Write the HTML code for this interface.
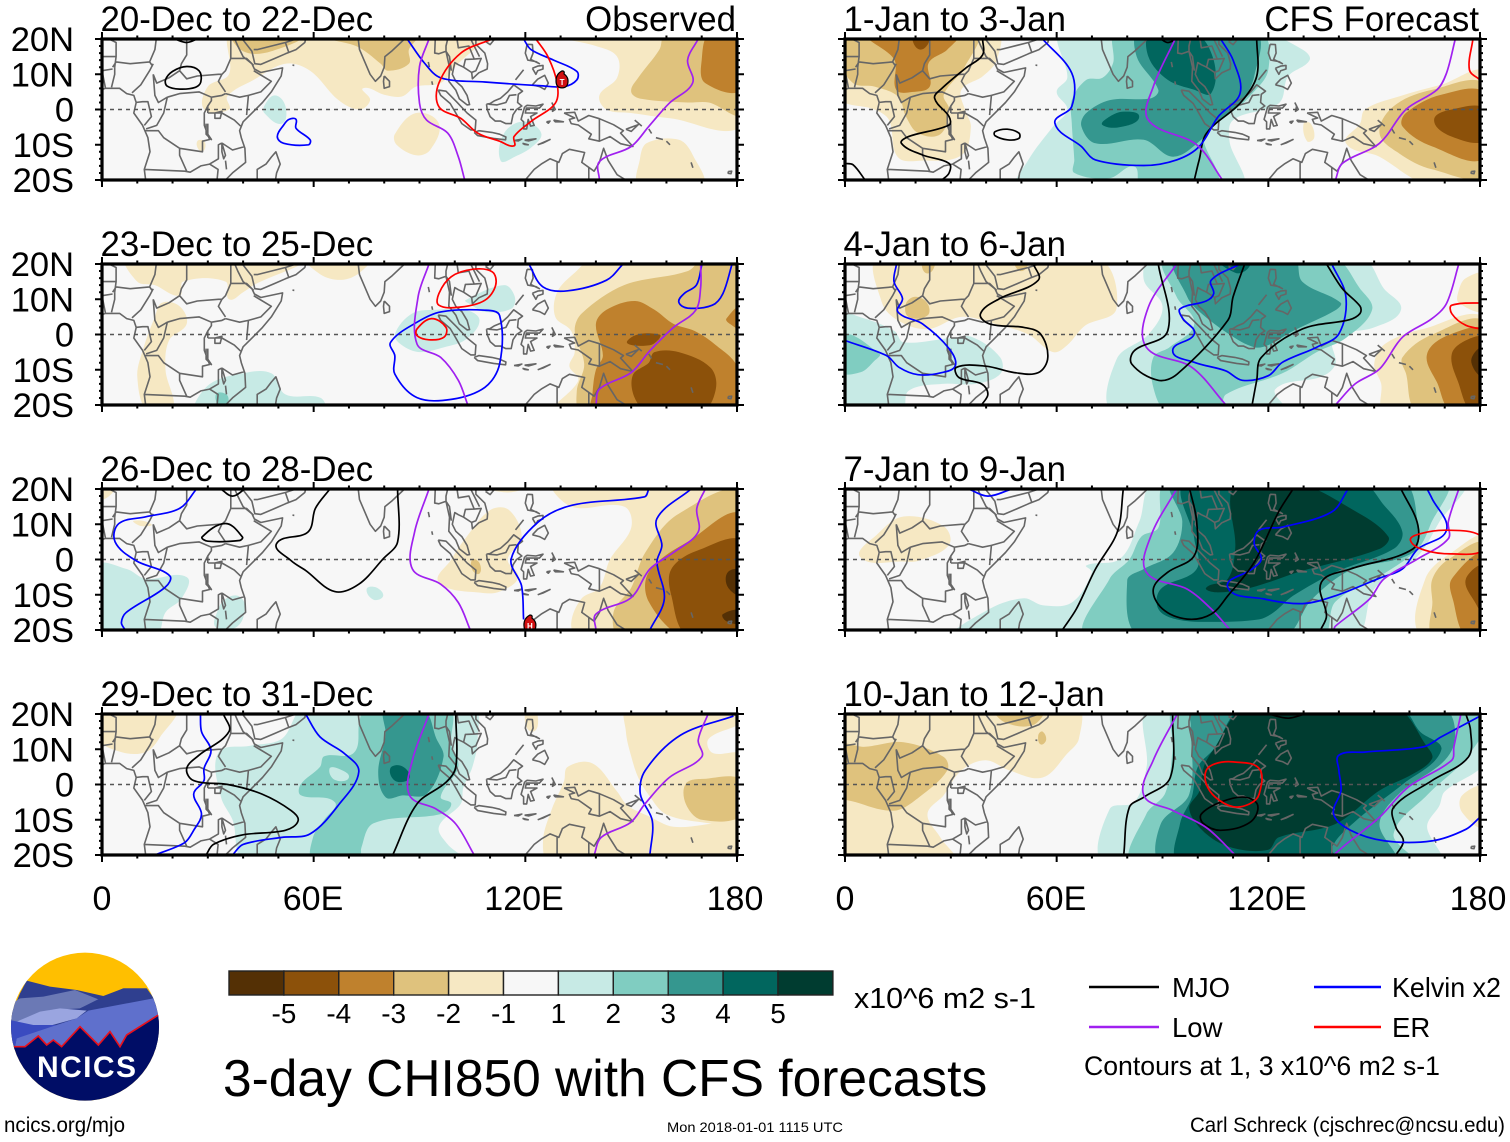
<!DOCTYPE html>
<html lang="en">
<head>
<meta charset="utf-8">
<title>3-day CHI850 with CFS forecasts</title>
<style>
html,body{margin:0;padding:0;background:#fff;}
svg{display:block;font-family:"Liberation Sans",Arial,sans-serif;}
</style>
</head>
<body>
<svg id="chart" xmlns="http://www.w3.org/2000/svg" width="1510" height="1142" viewBox="0 0 1510 1142">
<rect x="0" y="0" width="1510" height="1142" fill="#fff"/>
<g id="panels"></g>
<g id="colorbar"></g>

<text x="854" y="1008" font-size="29" textLength="182" lengthAdjust="spacingAndGlyphs">x10^6 m2 s-1</text>
<text x="223" y="1096" font-size="51.5">3-day CHI850 with CFS forecasts</text>

<g>
<line x1="1089" x2="1159" y1="987" y2="987" stroke="#000" stroke-width="2.4"/>
<text x="1172" y="997" font-size="27.5">MJO</text>
<line x1="1314" x2="1381" y1="987" y2="987" stroke="#0000ff" stroke-width="2.4"/>
<text x="1392" y="997" font-size="27.5" textLength="109" lengthAdjust="spacingAndGlyphs">Kelvin x2</text>
<line x1="1089" x2="1159" y1="1027" y2="1027" stroke="#a020f0" stroke-width="2.4"/>
<text x="1172" y="1037" font-size="27.5">Low</text>
<line x1="1314" x2="1381" y1="1027" y2="1027" stroke="#ff0000" stroke-width="2.4"/>
<text x="1392" y="1037" font-size="27.5">ER</text>
<text x="1084" y="1075" font-size="27" textLength="356" lengthAdjust="spacingAndGlyphs">Contours at 1, 3 x10^6 m2 s-1</text>
</g>

<g transform="translate(0,940) scale(0.33333)">
<defs><clipPath id="logoClip"><circle cx="255" cy="260" r="222"/></clipPath></defs>
<g clip-path="url(#logoClip)">
<rect x="0" y="0" width="520" height="520" fill="#ffbf00"/>
<polygon fill="#2f3f8f" points="80,122 150,140 230,150 310,168 370,145 440,145 480,200 480,330 30,330 30,230 60,160"/>
<polygon fill="#6b79b5" points="35,190 60,175 130,170 225,150 300,180 240,205 150,210 50,245 30,245"/>
<polygon fill="#2f3f8f" points="240,205 300,175 370,145 440,145 460,175 350,190 260,210"/>
<polygon fill="#5f70cc" points="170,255 230,235 265,212 460,175 480,225 380,285 360,320 45,320 50,295 110,270"/>
<polygon fill="#9aa5e0" points="50,245 120,215 180,205 260,212 230,235 140,260 60,255"/>
<polygon fill="#3a4bc0" points="30,240 100,255 170,255 50,295 45,320 30,300"/>
<polygon fill="#000d66" points="42,320 75,320 115,288 140,315 160,300 185,320 240,260 295,315 330,275 360,320 380,285 480,222 480,500 30,500 30,320"/>
<polyline fill="none" stroke="#e8101c" stroke-width="5" points="42,320 75,320 115,288 140,315 160,300 185,320 240,260 295,315 330,275 360,320 380,285 480,222"/>
</g>
</g>
<text x="37" y="1077" font-size="30" font-weight="bold" fill="#fff" textLength="99" lengthAdjust="spacing">NCICS</text>

<text x="4" y="1132" font-size="21" textLength="121" lengthAdjust="spacingAndGlyphs">ncics.org/mjo</text>
<text x="667" y="1132" font-size="14" textLength="176" lengthAdjust="spacingAndGlyphs">Mon 2018-01-01 1115 UTC</text>
<text x="1190" y="1132" font-size="21" textLength="315" lengthAdjust="spacingAndGlyphs">Carl Schreck (cjschrec@ncsu.edu)</text>
</svg>

<script>
// ---------- Scale and tick values ----------
const lonMajor = [0, 60, 120, 180];
const lonLabels = ['0', '60E', '120E', '180'];
const latMajor = [20, 10, 0, -10, -20];
const latLabels = ['20N', '10N', '0', '10S', '20S'];
const cbLevels = [-5, -4, -3, -2, -1, 1, 2, 3, 4, 5];
const cbColors = ['#543005', '#8c510a', '#bf812d', '#dfc27d', '#f6e8c3', '#f7f7f7', '#c7eae5', '#80cdc1', '#35978f', '#01665e', '#003c30'];
const levelColor = {'-5':'#543005','-4':'#8c510a','-3':'#bf812d','-2':'#dfc27d','-1':'#f6e8c3','1':'#c7eae5','2':'#80cdc1','3':'#35978f','4':'#01665e','5':'#003c30'};
const lineColor = {mjo:'#000000', kelvin:'#0000ff', low:'#a020f0', er:'#ff0000'};

// ---------- Geography (lon, lat) ----------
const coast = [
[[-2,5],[1,6],[5,6],[7,4.5],[9,4],[9.7,2],[9,-1],[11.5,-4.5],[13,-8],[13.6,-12],[12,-17],[12.5,-21]],
[[37.2,21],[38.5,18],[40,15],[42.5,13],[43.2,11.5],[45,10.5],[51.2,11.8],[50.8,9.5],[48,5],[45.5,2],[42,-1.5],[40,-3.5],[39,-6],[39.5,-8],[40.5,-11],[40.7,-15],[37,-18],[35,-20],[35,-21]],
[[39,21],[42.5,16.5],[43.3,13],[45,12.8],[49,14.5],[52,15.8],[55,17],[57.5,19],[58,21]],
[[72.5,21],[73,17],[74.5,13.5],[76,10],[77.5,8],[79,9.5],[80,12],[80.2,15],[82.3,16.7],[85,19.3],[86.8,21]],
[[80,9.5],[81.5,8],[81.5,6.5],[80,6],[79.8,8],[80,9.5]],
[[94.5,21],[94.3,16],[95.5,15.8],[97.5,16.5],[98.5,12],[98.3,8],[100.3,5.5],[101.3,3],[103.5,1.3],[104.2,1.4],[103.5,4],[102,6.5],[100.3,8],[99.3,10],[100,13.3],[101,12.7],[102.5,12],[104.8,10.5],[105,8.7],[106.8,10.4],[109.2,11.5],[109.3,13],[108.5,16],[106,18.5],[106,21]],
[[44,-21],[44,-17],[46.5,-15.5],[48,-13.5],[49.3,-12],[50.5,-15.5],[49.5,-18],[49,-21]],
[[95.3,5.5],[97.5,5.2],[100.5,2.2],[103.5,-1],[106,-3],[105.8,-5.8],[104.5,-5.8],[102,-4],[100.3,-1],[98.7,1.7],[96,4],[95.3,5.5]],
[[105.5,-6.5],[106.8,-6],[110.5,-6.5],[112.7,-7],[114.5,-7.8],[114.4,-8.6],[111,-8.2],[106.5,-7.4],[105.5,-6.5]],
[[109,1.5],[110,1.7],[111.3,2.5],[113,3.2],[115,5],[116.7,7],[119.2,5.2],[118,4.3],[117.8,2],[119,1],[117.5,0],[116.5,-1.5],[116,-4],[114.5,-4],[113,-3.3],[111.5,-3.3],[110,-2],[109.2,0],[109,1.5]],
[[119.8,0.7],[120.5,1.2],[123,1],[125,1.5],[124,0.4],[120.3,0.4],[120,-1],[121.5,-1],[123.3,-1],[121.5,-2],[122.5,-4.5],[121.5,-4.7],[120.8,-2.8],[120.4,-5.5],[119.5,-5.5],[119.5,-3.5],[118.8,-2.8],[119.8,0.7]],
[[120.5,18.5],[122,18.4],[122.2,16],[121.5,14.2],[124,13],[123,13.6],[120.7,14],[120,16],[120.5,18.5]],
[[122,7],[123.5,8.6],[125.5,9.7],[126.5,7.5],[125.5,5.7],[124,6.5],[122,7]],
[[122,11.7],[123,10],[123.5,11],[125,11.5],[125,12.5],[123.5,12.3],[122,11.7]],
[[117.2,8.4],[119.5,11.3]],
[[108.7,19.3],[110,20],[111,19.6],[110,18.4],[108.7,19.3]],
[[131,-1],[134,-0.8],[135,-3.3],[138,-1.7],[141,-2.6],[145,-4.3],[147.8,-6],[147,-6.7],[150.5,-10.5],[147,-9.7],[144,-7.7],[141,-9],[138,-8.3],[138.7,-7],[135,-4.4],[133,-4],[132.5,-2.8],[134,-2.4],[131,-1]],
[[127.5,2],[128.5,0],[127.7,-0.5],[128,1],[127.5,2]],
[[128,-3],[130.8,-3.5],[128.5,-3.5],[128,-3]],
[[126,-3.5],[127,-3.3],[126.5,-3.9],[126,-3.5]],
[[123.5,-10],[127,-8.5],[125,-9.5],[123.5,-10]],
[[119.8,-8.7],[123,-8.3],[121,-8.9],[119.8,-8.7]],
[[119.2,-9.6],[120.8,-10],[119.8,-9.9],[119.2,-9.6]],
[[116.8,-8.8],[119,-8.4],[118,-8.9],[116.8,-8.8]],
[[148.5,-5.6],[152,-4.3],[150,-6.2],[148.5,-5.6]],
[[151,-3],[153,-4.7]],
[[155,-5.5],[155.8,-6.8]],
[[157,-8],[159,-8.5]],
[[160,-9],[161,-10]],
[[167,-15],[167.5,-16.5]],
[[177.5,-17.6],[178.5,-17.5],[178.3,-18.2],[177.5,-18.1],[177.5,-17.6]],
[[118,-21],[120,-20],[122.5,-17],[124.5,-15.5],[127,-14],[129.5,-15],[130.5,-12.5],[132.5,-11.3],[136.8,-12.2],[136,-15],[139.5,-17.5],[141,-15],[142.2,-11],[143.5,-14.5],[146,-18.5],[148.5,-20],[149,-21]],
[[54,12.6],[54.5,12.5]],
[[92.5,13.5],[92.8,12]],
[[93.5,8],[93.7,7]]
];
const borders = [
[[3,12],[4,13.5],[8,13],[13.5,13.5],[14.2,12.5]],
[[2.7,6.3],[3.6,10],[3.6,12]],
[[8.5,4.7],[11,7],[13.5,11],[14.5,13]],
[[15.5,21],[15,17],[13.5,13.5]],
[[14.5,10],[15,4],[16,2],[18.5,3.5]],
[[14.5,10],[15.5,7.5],[19,9],[22,11]],
[[24,21],[24,15.5],[22.5,13],[22,11],[24,8.7],[27,9.5],[33,10],[34,10]],
[[18.5,3.5],[22,4.5],[27.5,5],[31,3.5]],
[[34,10],[33,8],[35,5]],
[[36.5,14.5],[38,14.5],[41,14.5],[43,12.5]],
[[36.5,14.5],[36.5,21]],
[[36.5,14.5],[35,11],[34,10]],
[[43,11],[48,8],[45,5],[41.5,4],[39,3.5],[35,4.5]],
[[41.5,4],[41,-1.6]],
[[34,-1],[37.5,-3],[39.3,-4.7]],
[[32,-1],[34,-0.5],[33.5,-2.5],[32,-2.5],[32,-1]],
[[30,-1],[34,-1]],
[[31,3.5],[34,4],[35,4.5]],
[[30,-1],[30,1],[31,2.5],[31,3.5]],
[[30,1],[29,-1],[29,-4.5],[30.5,-8.5],[28.5,-9],[28.5,-12],[22,-11],[22,-13],[24,-17.5]],
[[29.5,-4],[29.5,-7],[31,-8.5],[30,-7],[30,-4]],
[[12,-6],[16,-6],[17.5,-8],[22,-11]],
[[12,-17],[23.5,-17.5],[25,-17.8],[28,-16],[30.5,-15.5],[33,-14],[33,-10],[34,-9.5]],
[[34,-9.5],[35,-13],[34.5,-14],[34,-12],[34,-9.5]],
[[34,-9.5],[37,-11.5],[40.5,-10.5]],
[[30.5,-15.5],[32.9,-17],[32.5,-21]],
[[35,-14.5],[35.3,-17]],
[[9.5,2],[11.5,2.2],[13,2.2],[14,-2],[12,-4.5]],
[[18.5,3.5],[17.5,-1],[15.5,-4.5],[12.5,-5.5]],
[[0,11],[3,11.5]],
[[0,15],[4,15],[3.6,12]],
[[4,15],[4,19],[0,21]],
[[1,6],[0,11],[-2,11]],
[[0,15],[-2,15]],
[[43,17],[44,17],[52,19],[55,20],[55,21]],
[[52,19],[53,16]],
[[97.5,16.5],[98.5,15],[99,11]],
[[98,20],[97.5,18],[97.5,16.5]],
[[100.5,21],[101,17.5],[104,18],[105.5,14.3],[103,14.2],[102.5,12]],
[[105.5,14.3],[107.5,14.5],[106,11],[104.5,10.4]],
[[104,21],[107,15]],
[[94.5,21],[93,20]],
[[109.6,1.5],[112,1.3],[114.5,2],[115.5,4],[117.5,4.2]],
[[141,-2.6],[141,-6],[141,-9]],
[[129,-15],[129,-21]],
[[138,-16.5],[138,-21]]
];

// ---------- Panel A: 20-Dec to 22-Dec ----------
const shadeA = [
[-1,[[37,22],[36,10],[30,6.5],[29,0],[36,0],[35.5,3.7],[43,8.4],[52,13],[59,11],[67,2.7],[73,0],[76,2.7],[74,6],[80,4.2],[85,3.7],[89,6.5],[96,7.5],[100,12],[108,22]]],
[-1,[[125,22],[140,18],[146,15],[146,9],[141,4],[143,0],[150,-1],[161,-2.5],[182,-4],[182,22]]],
[-1,[[83,-7],[89,-1],[95.5,-4],[93,-11.5],[89,-13],[83.5,-10]]],
[-1,[[27,-9],[29,-9],[29,-11.5],[27.5,-11.5]]],
[-1,[[152.5,-22],[152.5,-14],[154.5,-9.5],[163.5,-8.6],[167.5,-13],[170,-22]]],
[-2,[[37,22],[40,16.5],[48,16.5],[57,22]]],
[-2,[[58,22],[72,18],[79,13],[81,11],[87,13],[87,17],[90,22]]],
[-2,[[160,22],[158,17],[152,9],[150,5],[153,3],[166,2],[172,2],[182,-1],[182,22]]],
[-3,[[172.5,22],[170,14],[171,7.5],[182,6],[182,22]]],
[1,[[46,1],[49,4],[52,1],[51,-4],[46,-1]]],
[1,[[113,-14.5],[114,-6.7],[119.5,-3.4],[124.5,-6.7],[122,-10.5],[117,-13.4]]]
];
const linesA = [
['mjo',[[18,8.4],[20,10.8],[24,12.2],[27.5,11],[28,7.8],[26.5,6.3],[22,5.8],[18.5,6.6]],1],
['mjo',[[20.6,20],[24,19],[27,20]]],
['kelvin',[[86.5,20],[91.4,13.2],[96,9],[108.5,7.8],[125,6.7],[131,6.5],[134.6,8.4],[134.6,10.8],[128,14],[121.6,17],[119.5,20]]],
['kelvin',[[53,-2.8],[55,-2.8],[55,-5.3],[59,-8.6],[58.5,-10],[51.5,-9.6],[49.7,-7.7],[51.5,-4.4]],1],
['low',[[92.7,20],[90,12.2],[90,1.8],[92,-3],[98,-6.7],[101,-13.4],[102.8,-20]]],
['low',[[169,20],[166,14],[167.4,7.5],[160.8,1.8],[155,-4.8],[150,-10.5],[141,-14.8],[141,-20]]],
['er',[[110.6,20],[101.7,16],[95.5,7.5],[95.5,0.8],[101.7,-2.5],[106.5,-6.7],[112.7,-9],[116.8,-10.3],[116.8,-7.7],[121.6,-3.4],[128.5,1.8],[129,7.5],[126.4,15],[123,20]]]
];

// ---------- Panel B: 1-Jan to 3-Jan ----------
const shadeB = [
[-1,[[-2,22],[43,22],[43,14],[39,9.4],[33,5.6],[34,0],[35.7,-5],[33,-13],[22,-14.5],[15,-13.5],[12.5,-3],[8.4,0],[-2,3.7]]],
[-2,[[-2,22],[37,22],[34,12.2],[28,4.2],[29.5,0],[27,-7],[20.7,-6.7],[17.3,-2],[15,3.7],[8.4,6.5],[2.3,7.5],[-2,15]]],
[-3,[[6.4,22],[14,14.1],[14.5,5.6],[19.3,5],[24,6.5],[23.7,13.2],[29,17],[32.3,22]]],
[-4,[[19.3,22],[21.4,17],[24,22]]],
[-1,[[182,10],[169,7],[157,3.7],[147.4,0],[146,-4],[142,-9.6],[151.5,-13.4],[160,-19],[166,-22],[182,-22]]],
[-1,[[130,-4],[132,-4],[133,-8],[131,-9]]],
[-2,[[182,6.5],[166.5,5.6],[155.5,0.9],[151.5,-6.7],[157,-12.4],[166.5,-17],[182,-18]]],
[-3,[[182,4.2],[169,4.2],[159,-1],[158,-4.8],[166.5,-10.5],[182,-13.4]]],
[-4,[[182,0],[172,0],[167,-3],[172,-7.7],[182,-8.6]]],
[1,[[61.6,22],[63,9],[60,5],[63,0],[59,-4.8],[52,-14.3],[49,-22],[112,-22],[109,-9],[110,-3],[123,1.8],[125.6,9.4],[131.7,14],[129.7,17],[117.5,22]]],
[2,[[77,22],[76,13.2],[73,9],[68.4,8.4],[64.3,2.7],[64.3,-4],[65,-14.3],[65,-18],[75,-19.5],[82,-16.2],[84,-22],[105,-22],[101.7,-6.7],[110.6,0],[114.7,3.7],[120,11.3],[117.5,22]]],
[3,[[83.4,22],[82.7,15],[88.8,5.6],[86.8,3.2],[75.2,2.7],[68.4,-1],[67,-4.8],[71,-9.6],[84.7,-8.6],[93,-13.4],[101,-8.6],[105,-4],[112,1.8],[116,9.4],[116,22]]],
[4,[[86.7,22],[86,15],[91.5,8.4],[99,5.6],[103.8,4.6],[104.5,14],[99,22]]],
[4,[[79,-0.6],[83.4,-2],[79,-4.8],[73,-4.4],[75,-2]]]
];
const linesB = [
['mjo',[[39,20],[39,15.5],[34.3,11.8],[27.5,6],[25.4,3.2],[29.5,-2],[29.5,-4.4],[18,-7.7],[16,-9.6],[22,-12.9],[29.5,-15.3],[29.5,-18],[27.5,-20]]],
['mjo',[[0,-15.3],[2.3,-15.7],[5.7,-20]]],
['mjo',[[42.5,-6.3],[46,-5.6],[49.3,-6.7],[49.3,-8.2],[46,-8.6],[42.5,-7.4]],1],
['mjo',[[89.5,20],[91.5,19],[94,20]]],
['mjo',[[116.7,20],[116.7,9.4],[112,1.8],[102.5,-6.7],[100.4,-14.3],[99,-20]]],
['kelvin',[[56,20],[64.3,10.3],[64.3,0.9],[59.5,-3.9],[67,-10.5],[71,-14.3],[84.7,-15.9],[94,-14.3],[100.4,-10.5],[105.8,-2],[112,4.6],[110,14],[106.5,20]]],
['low',[[93.6,20],[87.4,6.5],[86,-3],[99.7,-10],[107,-20]]],
['low',[[173,20],[170.5,10.3],[167.8,5.6],[159,0],[151.5,-9.6],[141,-15.3],[139,-20]]],
['er',[[178,20],[177,11.3],[180,8.4]]]
];

// ---------- Panel C: 23-Dec to 25-Dec ----------
const shadeC = [
[-1,[[58,22],[62,17],[68,15.5],[73,17.5],[76,22]]],
[-1,[[7,22],[10,15],[15,14],[22,11],[23,15],[35,15],[36,10],[40,12],[43,14],[57,22]]],
[-1,[[17,9],[22,8],[24,3],[19,-1.7],[18,-10],[20,-22],[13,-22],[10,-12],[11.7,-4],[15,5]]],
[-1,[[140,22],[134,17.5],[129,12],[128.5,5],[133,1],[134,-5],[132.5,-9],[135,-13],[128.5,-22],[182,-22],[182,22]]],
[-2,[[171,22],[166,18],[148,14],[136,6],[134,1],[136.7,-8.4],[134.6,-16],[136,-22],[182,-22],[182,22]]],
[-3,[[140,3],[143,7],[151,9.5],[156.6,7],[162,3],[168,1],[174,-3],[180,-9],[182,-22],[139,-22],[139,-17],[140,-10],[142,-6]]],
[-3,[[182,8],[177,4.5],[178,3],[182,1.5]]],
[-4,[[155,-8],[150.5,-11.5],[151,-18],[155,-22],[170,-22],[174,-15.5],[172.5,-9.4],[163.5,-5],[156.6,-5]]],
[-4,[[149,-1.7],[158,0],[155.5,-3]]],
[1,[[83,0],[88,6],[95,7],[103,7],[107,4],[103,-1.5],[97,-3.6],[90,-5],[85,-3]]],
[1,[[103,9.7],[114,14],[117,10.7],[116,7.3],[108.5,6.4],[104,8.8]]],
[1,[[27,-22],[30,-14.5],[40,-11],[48,-11],[52,-17],[62,-18],[63,-22]]],
[2,[[32.3,-17],[35.7,-17.5],[34.3,-21]]]
];
const linesC = [
['kelvin',[[81.8,-2.2],[89.3,3.5],[96,6.4],[108.5,6.9],[112.7,5.4],[112.7,-8.4],[108.5,-15],[99,-18.4],[89.3,-17.9],[83,-11.2],[83,-6]],1],
['kelvin',[[121,20],[125,13.5],[132,12.4],[143,15.4],[147.7,20]]],
['kelvin',[[178.6,20],[176,11.6],[173,8.3],[166,7.5],[163.5,9.2],[165,11.6],[168.5,14],[170,19.6]]],
['low',[[92.7,20],[89.6,10.7],[89.3,-2.7],[96,-6.5],[101,-13],[103.7,-20]]],
['low',[[169.7,20],[169.7,13.5],[168.3,6.9],[162,2],[155.3,-4.6],[150,-10.8],[141,-15.5],[140,-20]]],
['er',[[95.5,11.6],[99,16.4],[105,18.5],[110.6,17.8],[111.6,14],[108.5,9.7],[101.7,7.8],[95.5,8.3]],1],
['er',[[89.3,1.6],[93.4,4.5],[97.5,2],[96.9,-0.8],[92.7,-1.5],[89.3,-0.3]],1]
];

// ---------- Panel D: 4-Jan to 6-Jan ----------
const shadeD = [
[-1,[[9.8,22],[10.5,9],[15,4],[23.4,1.5],[33,5],[42.5,3],[52,0],[59,-5],[63,-3],[68,2.5],[77,7.5],[71,22]]],
[-2,[[17.3,8.8],[20,10.7],[23.4,8.8],[23.4,5.4],[18,5]]],
[-2,[[22,22],[23.4,17.3],[25.5,22]]],
[-2,[[48,22],[50,18],[52,22]]],
[-1,[[182,17],[176,16],[174,12.6],[174,9],[182,7]]],
[-1,[[182,4],[164,1.6],[153,-2.7],[150,-8.4],[152,-14],[153,-22],[182,-22]]],
[-2,[[182,3],[166.5,0],[158,-6.5],[159,-11],[162.5,-22],[182,-22]]],
[-3,[[182,0.7],[172,0.2],[165,-5.5],[168,-14],[172,-22],[182,-22]]],
[-4,[[182,-1.2],[177,-1.2],[172,-5.5],[174,-14],[177.5,-22],[182,-22]]],
[-5,[[182,-3.6],[177.5,-7.4],[182,-12]]],
[1,[[-2,5.5],[4.4,4.9],[14,1],[16.6,-2.2],[30,-1],[36,-0.7],[44,-6.5],[44,-11.2],[37,-14],[27.5,-14],[18,-16],[16,-22],[-2,-22]]],
[2,[[-2,0],[9.8,-5.5],[8.4,-7.4],[4.4,-10.7],[-2,-10.3]]],
[1,[[87,22],[84.7,15.5],[90,8],[86,0],[77,-7],[76.5,-22],[125,-22],[122,-15.5],[135,-12],[139,-8.4],[138.5,-1],[150,2],[157.6,7],[152.8,13],[146,22]]],
[2,[[91,22],[94,10.7],[99,3],[92,-3.6],[87.4,-6.5],[87.4,-15],[91.5,-22],[106,-22],[108,-17],[124,-11],[133.7,-5],[142,-1],[149.4,7],[146,13],[138,22]]],
[3,[[94,22],[97,10.7],[100,6.9],[109,0],[116,-3.6],[120,-3],[127,1],[139,6.9],[140.5,9],[129.6,15],[127,22]]],
[4,[[106,22],[110.6,17.5],[114,18.5],[115,22]]]
];
const linesD = [
['kelvin',[[14.6,20],[13.9,15],[16.3,10.2],[15,6.4],[22,3],[29.5,-4],[31.3,-8.8],[27.5,-10.8],[20.7,-11.4],[15.3,-9.3],[11.8,-6],[0,-1.7]]],
['kelvin',[[112,20],[103.8,15.4],[104.5,11.6],[102.4,9.5],[95,7.3],[95.6,4.7],[99,0.2],[92.9,-4.6],[99,-7.9],[107.9,-10.3],[112.6,-13],[120,-11.7],[124,-7.9],[133.7,-3.6],[140,0.2],[142,10.7],[138,20]]],
['low',[[94,20],[86,7.8],[85.4,-3.6],[98.3,-9.3],[108,-20]]],
['low',[[174,20],[170.5,8.8],[166.4,4.5],[158,-0.8],[151.5,-9.8],[144.6,-14],[139,-20]]],
['mjo',[[53.4,20],[54.8,15.4],[43.9,10.2],[38.4,5.9],[41,3],[50.7,2],[55.4,0.2],[57.5,-6.5],[54.8,-10.8],[48,-10.8],[40,-9],[31.6,-9.3],[32.3,-12.2],[38.7,-14],[40.5,-16.9],[38.7,-20]]],
['mjo',[[88.8,20],[91.5,1.1],[82,-4.6],[81.3,-8.4],[88.8,-13],[94.2,-11.2],[108.5,4],[110,10.7],[113.3,20]]],
['mjo',[[136.5,20],[141,13],[146,8],[146,6],[143,4.2],[129.7,1.6],[118,-6.5],[116.7,-13],[115.4,-20]]],
['er',[[182,9],[172,8.3],[172,5.9],[176,2.6],[182,1.3]]]
];

// ---------- Panel E: 26-Dec to 28-Dec ----------
const shadeE = [
[-1,[[110,14],[115.4,14],[119,6],[115,0],[118,-5],[113,-9],[108,-9.5],[95.5,-6.4],[99,0],[103,6]]],
[-1,[[128,22],[133,15],[148,15],[150,9],[144,0],[141,-8],[136,-11],[133,-18],[135,-22],[182,-22],[182,22]]],
[-1,[[107,22],[115,19],[122,22]]],
[-1,[[-2,22],[4,22],[2,18],[-2,17]]],
[-1,[[9,11],[14,10],[11,9.5]]],
[-2,[[105,0],[107,-1],[107,-4],[105,-3]]],
[-2,[[182,18],[163.5,13],[154,2],[150,-8],[145,-15],[147,-22],[182,-22]]],
[-3,[[182,12],[166,5],[155,-3.6],[155,-12],[165,-22],[182,-22]]],
[-4,[[182,4.5],[169,2.6],[161.4,-2.7],[161.4,-10.3],[166.3,-22],[182,-22]]],
[-5,[[182,-3.5],[177.5,-3.5],[177.5,-8],[182,-10]]],
[-5,[[176,-15.5],[182,-14.5],[182,-18],[177,-17.5]]],
[1,[[-2,-2],[7,-2.7],[12.4,-5.5],[24,-5],[22.6,-11],[18,-15],[15,-22],[-2,-22]]],
[1,[[35,-11.2],[38.5,-10.3],[40.5,-13],[38.5,-18.9],[32.3,-19.3],[33,-14]]],
[1,[[75,-8.4],[77.6,-7.9],[79.7,-10.3],[77,-11.4]]]
];
const linesE = [
['kelvin',[[26.8,20],[22,14.5],[12.4,12.1],[4.8,10.2],[3.7,5],[9.6,-0.3],[19.2,-4.6],[17.9,-7.9],[6.9,-15],[5.5,-17.9],[6.6,-20]]],
['kelvin',[[167,20],[157.3,11.6],[158.7,4],[157.3,-0.8],[159.4,-11.2],[155.3,-20]]],
['kelvin',[[155,20],[153.8,17.8],[133.3,15.4],[123.7,10.7],[116,0.2],[118.9,-7.4],[119.5,-17]]],
['low',[[92.7,20],[88.6,7.8],[88,-2.7],[96,-7],[101,-12.2],[104.4,-20]]],
['low',[[171,20],[168.6,14.5],[169,7.8],[162,2],[155.3,-2.7],[150,-10.8],[140,-15.5],[140,-20]]],
['mjo',[[33.7,20],[37,18],[40.5,20]]],
['mjo',[[28.4,6.4],[35,10.2],[39.8,6.4],[39,5.4],[30,5.2]],1],
['mjo',[[64.6,20],[60.5,14.5],[58.4,7.8],[49.5,4.5],[53.6,-0.3],[57.7,-3.1],[66,-9.1],[72.8,-7],[79.7,0.2],[83.8,5],[83.8,20]]]
];

// ---------- Panel F: 7-Jan to 9-Jan ----------
const shadeF = [
[-1,[[4.4,0.6],[9,7],[16.6,12.2],[28,9.4],[29.5,4.2],[21,-0.3],[16.6,-0.6]]],
[-1,[[182,6],[172,2],[164.5,-5.5],[163.5,-22],[182,-22]]],
[-2,[[182,4],[171,0],[166.5,-5.5],[166.5,-12],[167,-22],[182,-22]]],
[-3,[[182,1],[172,-5.5],[172.5,-12],[176,-22],[182,-22]]],
[-4,[[182,-2],[176,-5.5],[178.5,-12],[182,-16]]],
[1,[[31,-22],[41,-14],[50.7,-11],[56,-13],[64.3,-12.2],[70,-3.6],[68.4,-1.7],[78,0.2],[83.4,10.7],[88,22],[175,22],[168.5,10.7],[162.4,1],[150,-8.4],[144,-22]]],
[2,[[69,-22],[75,-5.5],[80.6,0],[84,6.5],[88.8,9],[91.5,22],[170,22],[166,10],[162.4,3],[152.8,-4],[139,-12],[135,-22]]],
[3,[[84,-22],[80,-6],[84.7,-2.7],[93,1.9],[95.6,10.7],[93,22],[157.6,22],[162.4,9.7],[161,2],[143.3,-3],[132.4,-11.2],[124,-22]]],
[4,[[88.8,-14],[94,-17],[104,-17.7],[117.4,-17],[121.5,-15],[127,-10.3],[139,-3.6],[155.5,3],[158,7.8],[152.8,15.4],[146,22],[97,22],[99,5.9],[99.7,-2.7],[89.5,-8.4]]],
[5,[[102.4,-8],[108.5,-5.5],[110.6,3],[111,22],[127.6,22],[143.3,14.5],[154,6.5],[151.5,3],[128.3,-3.6],[120,-6.5],[113.3,-8.4],[105,-9.3]]]
];
const linesF = [
['kelvin',[[35,20],[40.5,18],[47.3,20]]],
['kelvin',[[142.6,20],[138,13.5],[124,9.2],[117.4,8.3],[116,4.5],[118,0.2],[115.4,-2.7],[108.5,-7.9],[118.8,-11.2],[129.7,-12.5],[139,-10.3],[151.5,-5.3],[158,-2.7],[162.4,3],[170.5,8.3],[166.4,17.3],[165,20]]],
['low',[[94,20],[86.8,6.9],[85.4,-3.6],[97,-8.4],[103.8,-14],[109.2,-20]]],
['low',[[174,20],[171,10.7],[171,5.9],[162.4,0.2],[152.8,-5.5],[148.7,-11.2],[139,-18.9],[138.5,-20]]],
['mjo',[[78.9,20],[77.2,7.8],[71,-2.7],[65.6,-14],[61.6,-20]]],
['mjo',[[97.7,20],[99.7,10.7],[99,1.1],[91.5,-3.6],[87.4,-8.4],[90,-14],[97,-16.9],[103.8,-15.5],[108.5,-10.3],[116,-0.8],[122.9,13.5],[127,20]]],
['mjo',[[157.6,20],[162.4,9.7],[161,3],[143.3,-2.7],[135,-6.5],[136.5,-16],[134.8,-20]]],
['er',[[160.3,5.4],[163,7.3],[170.5,8.3],[180,6.9],[181,2.6],[172,1.6],[164.5,2.6]],1]
];

// ---------- Panel G: 29-Dec to 31-Dec ----------
const shadeG = [
[-1,[[-2,22],[20.6,22],[16.5,13.5],[12.4,9.2],[5.5,9.2],[-2,13.5]]],
[-1,[[149,22],[148.5,15],[150,8],[152,2],[155,-3],[160,-8.5],[172,-11],[182,-12],[182,8],[173,9],[172,13],[182,18],[182,22]]],
[-1,[[127,-22],[125,-16],[127.5,-7],[131,1],[132,5],[139,6],[146,-2],[149,-6],[155,-9],[162,-12],[182,-12],[182,-22]]],
[-1,[[120,22],[122,15],[123,22]]],
[-2,[[165.5,0.2],[170.4,1.6],[182,1],[182,-8.4],[170,-10],[165.5,-5.5]]],
[1,[[33,9],[42,11],[51,13],[57.7,22],[105,22],[106.5,13],[105,5],[102.4,-1],[101.7,-5.5],[95.5,-12],[98,-17],[103,-22],[41,-22],[37,-10],[33.7,-3.5]]],
[2,[[60,-22],[59.8,-15],[63,-10],[66,-5],[56.3,-3],[56.3,0],[61.8,5],[63,8],[71.4,9],[73,18],[75,22],[98,22],[99,11],[101,5],[96,-3.5],[99,-5.5],[96,-8.4],[77,-11],[73.5,-18],[73,-22]]],
[1,[[64.5,4.5],[67,4.5],[70,2],[66,1.3]]],
[3,[[80.4,22],[80.4,14],[78.3,3.6],[80.4,-3.6],[85.2,-3.1],[92,-2.7],[96.8,7.8],[94.8,13],[90.7,22]]],
[4,[[81.7,4.5],[84.5,5.4],[87.2,3],[86.5,1.1],[83,1.1]]]
];
const linesG = [
['kelvin',[[57.7,20],[61.8,13.5],[68.7,8.8],[72.8,3.6],[67.3,-5.5],[59,-14],[51,-15],[40,-17],[37,-20]]],
['kelvin',[[27.9,20],[28.2,15],[30.9,9.7],[28.9,4.5],[28.9,1.1],[26,-2.7],[28.2,-8.4],[26,-13],[23.4,-16.5],[15,-20]]],
['kelvin',[[179,19.4],[164,14],[154,4],[152.6,-2.7],[156,-10.3],[155.3,-20]]],
['low',[[92.7,20],[88,6.9],[87.2,-3.1],[94.8,-7],[100.3,-11.2],[105.5,-20]]],
['low',[[171.8,20],[169,12.6],[170,7.8],[160.8,2],[153.9,-5.5],[149.8,-10.8],[141.5,-15],[139.5,-20]]],
['mjo',[[34.4,20],[36,15],[27.5,8.3],[24,4.5],[26,1.1],[35.7,0],[45.3,-2.7],[53.6,-7.4],[55.6,-10.3],[52,-13],[39.8,-14.3],[31.6,-17],[29.5,-20]]],
['mjo',[[100.3,20],[100.3,5],[97.6,0.7],[89.3,-5.5],[82.4,-20]]]
];

// ---------- Panel H: 10-Jan to 12-Jan ----------
const shadeH = [
[-1,[[-2,22],[65.6,22],[66.3,13],[63,8.8],[56,2],[46.6,4],[39.8,6.9],[33,4],[28,-3],[23.4,-8.4],[27,-15],[31,-22],[-2,-22]]],
[-2,[[-2,10.7],[5.7,10.7],[16.6,12],[28,7.8],[29,4],[21,-3.6],[14,-7.4],[3,-5],[-2,-2.7]]],
[-2,[[42.5,22],[45,17.8],[53.4,16.9],[56,22]]],
[-2,[[54.8,14],[56,15],[57,12.6],[55.4,11.4]]],
[-1,[[182,-1],[175,-3],[175,-8],[182,-12]]],
[1,[[74,-22],[75,-7],[82,-5],[85.5,5],[87,22],[182,22],[182,7],[170,-2],[168.5,-6],[165,-12],[168.5,-22]]],
[2,[[82,-22],[85.4,-8.4],[90.8,-2.4],[92.9,10],[94,22],[182,22],[177.3,9],[165,-3],[155.5,-14],[161,-22]]],
[3,[[90,-22],[89.5,-11.2],[97.6,-2.7],[98,17],[98,22],[169,22],[172,9.7],[157,-2.7],[151.5,-11.2],[155.5,-22]]],
[4,[[94.9,-22],[95,-11],[98.3,-3.6],[100,5],[104.5,10],[113.3,22],[157,22],[163,15],[169,9.7],[158,0],[144.6,-10.5],[138,-18],[140,-22]]],
[5,[[110,-18],[102.4,-14],[97.6,-7],[100.4,-2],[101.7,5],[104.5,10],[114,22],[155.5,22],[165,10.7],[166.4,7.3],[161,3],[151.5,-1.7],[139,-11.2],[122.9,-15],[120,-18.5]]]
];
const linesH = [
['mjo',[[92.9,20],[92.2,2],[84.7,-3.6],[80.6,-6.5],[79,-20]]],
['mjo',[[101,-8.4],[106.5,-5],[113.3,-3.6],[117,-6],[114.7,-10.8],[106.5,-13],[101.5,-11]],1],
['mjo',[[120,20],[125.6,18.8],[130.3,20]]],
['mjo',[[176,20],[177.3,15.4],[176.7,7.8],[166.4,1.1],[155.5,-6.5],[156.2,-12.2],[158.3,-16],[156.2,-20]]],
['kelvin',[[180,19.4],[169,13.5],[164,10.7],[147.3,9.2],[140,8.3],[140,4],[140.6,-1.7],[138.5,-8.4],[143.3,-13],[153,-16],[166.4,-16],[176,-12.7],[180,-9.3]]],
['low',[[94.2,20],[87.4,6.9],[84.7,-3.1],[93,-7.4],[102.4,-12.2],[110.6,-20]]],
['low',[[174.6,20],[172.6,10.7],[172,6.9],[159.6,-0.8],[151.5,-9.3],[142,-17],[138.5,-20]]],
['er',[[102.4,4],[105,5.9],[110,6.4],[117.4,4.5],[117.4,-2.7],[114.7,-5.5],[110,-6.3],[105,-3.6],[102.4,0.2]],1]
];

// ---------- Panel list and storm markers ----------
const panelTitles = ['20-Dec to 22-Dec','1-Jan to 3-Jan','23-Dec to 25-Dec','4-Jan to 6-Jan','26-Dec to 28-Dec','7-Jan to 9-Jan','29-Dec to 31-Dec','10-Jan to 12-Jan'];
const panelShades = [shadeA, shadeB, shadeC, shadeD, shadeE, shadeF, shadeG, shadeH];
const panelLines = [linesA, linesB, linesC, linesD, linesE, linesF, linesG, linesH];
const sideLabels = {0:'Observed', 1:'CFS Forecast'};
const stormPanels = [0, 4];
const stormLons = [130.4, 121.3];
const stormLats = [8.4, -18.3];
const stormMarks = ['T', 'H'];

// ---------- Rendering ----------
const NS = 'http://www.w3.org/2000/svg';
const colLeft = [102, 845];
const rowTop = [39, 264, 489, 714];
const plotW = 635, plotH = 141;
const xOf = (lon, col) => colLeft[col] + lon / 180 * plotW;
const yOf = (lat, row) => rowTop[row] + (20 - lat) / 40 * plotH;

function make(tag, attrs, parent) {
  const el = document.createElementNS(NS, tag);
  for (const k in attrs) el.setAttribute(k, attrs[k]);
  parent.appendChild(el);
  return el;
}
// Smooth curve whose tangents are limited by each segment's own length,
// so long closing edges outside the plot do not bulge into it.
function smoothPath(pts, closed) {
  const n = pts.length;
  const get = i => closed ? pts[(i + n) % n] : pts[Math.max(0, Math.min(n - 1, i))];
  const tangent = (a, b, len) => {
    const dx = b[0] - a[0], dy = b[1] - a[1], m = Math.hypot(dx, dy) || 1;
    return [dx / m * len, dy / m * len];
  };
  let d = 'M' + pts[0][0].toFixed(1) + ' ' + pts[0][1].toFixed(1);
  const last = closed ? n : n - 1;
  for (let i = 0; i < last; i++) {
    const p0 = get(i - 1), p1 = get(i), p2 = get(i + 1), p3 = get(i + 2);
    const len = Math.hypot(p2[0] - p1[0], p2[1] - p1[1]) * 0.33;
    const t1 = tangent(p0, p2, len), t2 = tangent(p1, p3, len);
    d += 'C' + (p1[0] + t1[0]).toFixed(1) + ' ' + (p1[1] + t1[1]).toFixed(1) + ' ' + (p2[0] - t2[0]).toFixed(1) + ' ' + (p2[1] - t2[1]).toFixed(1) + ' ' + p2[0].toFixed(1) + ' ' + p2[1].toFixed(1);
  }
  return d + (closed ? 'Z' : '');
}
function straightPath(list, col, row) {
  return list.map(line => line.map((p, i) => (i ? 'L' : 'M') + xOf(p[0], col).toFixed(1) + ' ' + yOf(p[1], row).toFixed(1)).join('')).join('');
}

const root = document.getElementById('panels');
const defs = make('defs', {}, root);

panelTitles.forEach((title, idx) => {
  const col = idx % 2, row = Math.floor(idx / 2);
  const L = colLeft[col], T = rowTop[row];
  const clipId = 'clip' + idx;
  const cp = make('clipPath', {id: clipId}, defs);
  make('rect', {x: L, y: T, width: plotW, height: plotH}, cp);

  const g = make('g', {}, root);
  
  

  const plot = make('g', {'clip-path': 'url(#' + clipId + ')'}, g);
  const bg = make('rect', {x: L, y: T, width: plotW, height: plotH, fill: '#f7f7f7'}, plot);
  
  

  panelShades[idx].forEach(item => {
    const pts = item[1].map(p => [xOf(p[0], col), yOf(p[1], row)]);
    const el = make('path', {d: smoothPath(pts, true), fill: levelColor[item[0]]}, plot);
    
    
  });

  const map = make('path', {d: straightPath(coast.concat(borders), col, row), fill: 'none', stroke: '#666', 'stroke-width': 1.6, 'stroke-linejoin': 'round'}, plot);
  
  

  const eq = make('line', {x1: xOf(0, col), x2: xOf(180, col), y1: yOf(0, row), y2: yOf(0, row), stroke: '#555', 'stroke-width': 1.5, 'stroke-dasharray': '4 4'}, plot);
  
  

  panelLines[idx].forEach(item => {
    const pts = item[1].map(p => [xOf(p[0], col), yOf(p[1], row)]);
    const el = make('path', {d: smoothPath(pts, !!item[2]), fill: 'none', stroke: lineColor[item[0]], 'stroke-width': 1.7}, plot);
    
    
  });

  stormPanels.forEach((p, i) => {
    if (p !== idx) return;
    const sx = xOf(stormLons[i], col), sy = yOf(stormLats[i], row);
    const s = make('g', {}, plot);
    
    
    make('path', {d: 'M' + sx + ' ' + (sy - 9) + 'q3 0 2 3q4 3 4 7q0 7-6 7q-6 0-6-7q0-7 6-10z', fill: '#d01010', stroke: '#000', 'stroke-width': 1.2}, s);
    const tx = make('text', {x: sx, y: sy + 5, 'font-size': 8, 'font-weight': 'bold', fill: '#fff', 'text-anchor': 'middle'}, s);
    tx.textContent = stormMarks[i];
  });

  const frame = make('rect', {x: L, y: T, width: plotW, height: plotH, fill: 'none', stroke: '#000', 'stroke-width': 3.2}, g);
  
  

  let ticks = '';
  for (let lon = 0; lon <= 180; lon += 10) {
    const len = lonMajor.includes(lon) ? 7 : 3.5, x = xOf(lon, col);
    ticks += 'M' + x + ' ' + T + 'v' + (-len) + 'M' + x + ' ' + (T + plotH) + 'v' + len;
  }
  for (let lat = -20; lat <= 20; lat += 2) {
    const len = latMajor.includes(lat) ? 7 : 3, y = yOf(lat, row);
    ticks += 'M' + L + ' ' + y + 'h' + (-len) + 'M' + (L + plotW) + ' ' + y + 'h' + len;
  }
  const tk = make('path', {d: ticks, stroke: '#000', 'stroke-width': 2, fill: 'none'}, g);
  
  

  const tt = make('text', {x: L - 1.5, y: T - 8, 'font-size': 34.8}, g);
  
  
  tt.textContent = title;

  if (sideLabels[idx]) {
    const st = make('text', {x: L + plotW - 1, y: T - 8, 'font-size': 34.8, 'text-anchor': 'end'}, g);
    
    
    st.textContent = sideLabels[idx];
  }

  if (col === 0) {
    latMajor.forEach((lat, i) => {
      const t = make('text', {x: 74, y: yOf(lat, row) + 12, 'font-size': 34.5, 'text-anchor': 'end'}, g);
      
      
      t.textContent = latLabels[i];
    });
  }
  if (row === 3) {
    lonMajor.forEach((lon, i) => {
      const t = make('text', {x: xOf(lon, col) - lon / 180 * 2, y: 910, 'font-size': 34, 'text-anchor': 'middle'}, g);
      
      
      t.textContent = lonLabels[i];
    });
  }
});

// ---------- Colorbar ----------
const cb = document.getElementById('colorbar');
const cbX = v => 229 + v * 54.9;
cbColors.forEach((c, i) => {
  const r = make('rect', {x: cbX(i), y: 971, width: 54.9, height: 24, fill: c, stroke: '#222', 'stroke-width': 1.4}, cb);
  
  
});
cbLevels.forEach((v, i) => {
  const t = make('text', {x: cbX(i + 1), y: 1023, 'font-size': 28, 'text-anchor': 'middle'}, cb);
  
  
  t.textContent = String(v);
});
</script>
</body>
</html>
